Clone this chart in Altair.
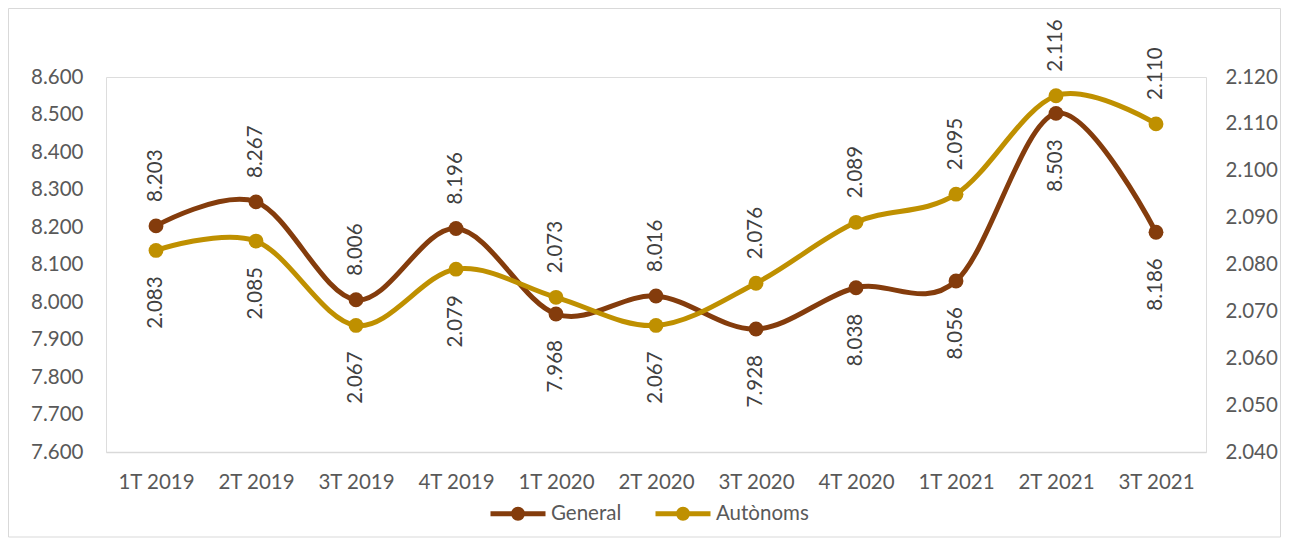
import altair as alt
import pandas as pd

quarters = ["1T 2019", "2T 2019", "3T 2019", "4T 2019", "1T 2020", "2T 2020",
            "3T 2020", "4T 2020", "1T 2021", "2T 2021", "3T 2021"]
general = [8203, 8267, 8006, 8196, 7968, 8016, 7928, 8038, 8056, 8503, 8186]
autonoms = [2083, 2085, 2067, 2079, 2073, 2067, 2076, 2089, 2095, 2116, 2110]
# label side: a = above the point, b = below
general_side = ["a", "a", "a", "a", "b", "a", "b", "b", "b", "b", "b"]
autonoms_side = ["b", "b", "b", "b", "a", "b", "a", "a", "a", "a", "a"]
series_names = ["General", "Autònoms"]
series_colors = ["#843C0C", "#BF9000"]
left_ticks = list(range(7600, 8700, 100))
right_ticks = list(range(2040, 2130, 10))

rows = []
for q, v, s in zip(quarters, general, general_side):
    rows.append({"q": q, "v": v, "series": "General", "side": s})
for q, v, s in zip(quarters, autonoms, autonoms_side):
    rows.append({"q": q, "v": v, "series": "Autònoms", "side": s})
df = pd.DataFrame(rows)

FONT = "Lato"
FS = 20.5
LABEL_EXPR = "replace(format(datum.value, ','), ',', '.')"

legend_path = "M-1,0L1,0M0.164,0A0.164,0.164,0,1,1,-0.164,0A0.164,0.164,0,1,1,0.164,0Z"
color_scale = alt.Scale(domain=series_names, range=series_colors)
legend = alt.Legend(
    title=None, orient="none", direction="horizontal", legendX=382, legendY=406.5,
    symbolType=legend_path, symbolSize=3025, symbolStrokeWidth=5,
    labelFont=FONT, labelFontSize=FS, labelColor="#595959", labelOffset=3,
    columnPadding=23, padding=0,
)

x_enc = alt.X("q:N", sort=quarters, title=None,
              axis=alt.Axis(labelAngle=0, ticks=False, grid=False, domainColor="#d9d9d9",
                            domainWidth=1.5, labelPadding=20, labelFont=FONT,
                            labelFontSize=FS, labelColor="#595959"))


def series_layer(name, domain, ticks, orient, pad):
    y_enc = alt.Y("v:Q", title=None,
                  scale=alt.Scale(domain=domain, nice=False, zero=False),
                  axis=alt.Axis(orient=orient, values=ticks, labelExpr=LABEL_EXPR,
                                domain=False, ticks=False, grid=False, labelPadding=pad,
                                labelFont=FONT, labelFontSize=FS, labelColor="#595959"))
    base = alt.Chart(df).transform_filter(alt.datum.series == name)
    line = base.mark_line(interpolate="cardinal", strokeWidth=5).encode(
        x=x_enc, y=y_enc, color=alt.Color("series:N", scale=color_scale, legend=legend))
    pts = base.mark_point(filled=True, size=220, opacity=1, strokeWidth=0).encode(
        x=x_enc, y=y_enc, fill=alt.Fill("series:N", scale=color_scale, legend=legend))
    lab = base.transform_calculate(lbl="replace(format(datum.v, ','), ',', '.')")
    above = lab.transform_filter(alt.datum.side == "a").mark_text(
        angle=270, align="left", baseline="middle", dx=24, font=FONT, fontSize=FS,
        color="#404040").encode(x=x_enc, y=y_enc, text="lbl:N")
    below = lab.transform_filter(alt.datum.side == "b").mark_text(
        angle=270, align="right", baseline="middle", dx=-26, font=FONT, fontSize=FS,
        color="#404040").encode(x=x_enc, y=y_enc, text="lbl:N")
    return alt.layer(line, pts, above, below)


gen = series_layer("General", [7600, 8600], left_ticks, "left", 23)
aut = series_layer("Autònoms", [2040, 2120], right_ticks, "right", 19)

frame = alt.Chart(pd.DataFrame({"f": [0]})).mark_rect(
    fill="transparent", stroke="#d9d9d9", strokeWidth=1).encode(
    x=alt.value(-97.5), x2=alt.value(1174.5), y=alt.value(-68.5), y2=alt.value(460))

chart = alt.layer(frame, gen, aut).resolve_scale(y="independent").properties(
    width=1100, height=375,
    padding={"left": 98, "top": 69, "right": 75, "bottom": 86},
    autosize=alt.AutoSizeParams(type="none"),
).configure_view(strokeWidth=0).configure(background="white")

chart.save("out.html", embed_options={"renderer": "svg", "actions": False})
